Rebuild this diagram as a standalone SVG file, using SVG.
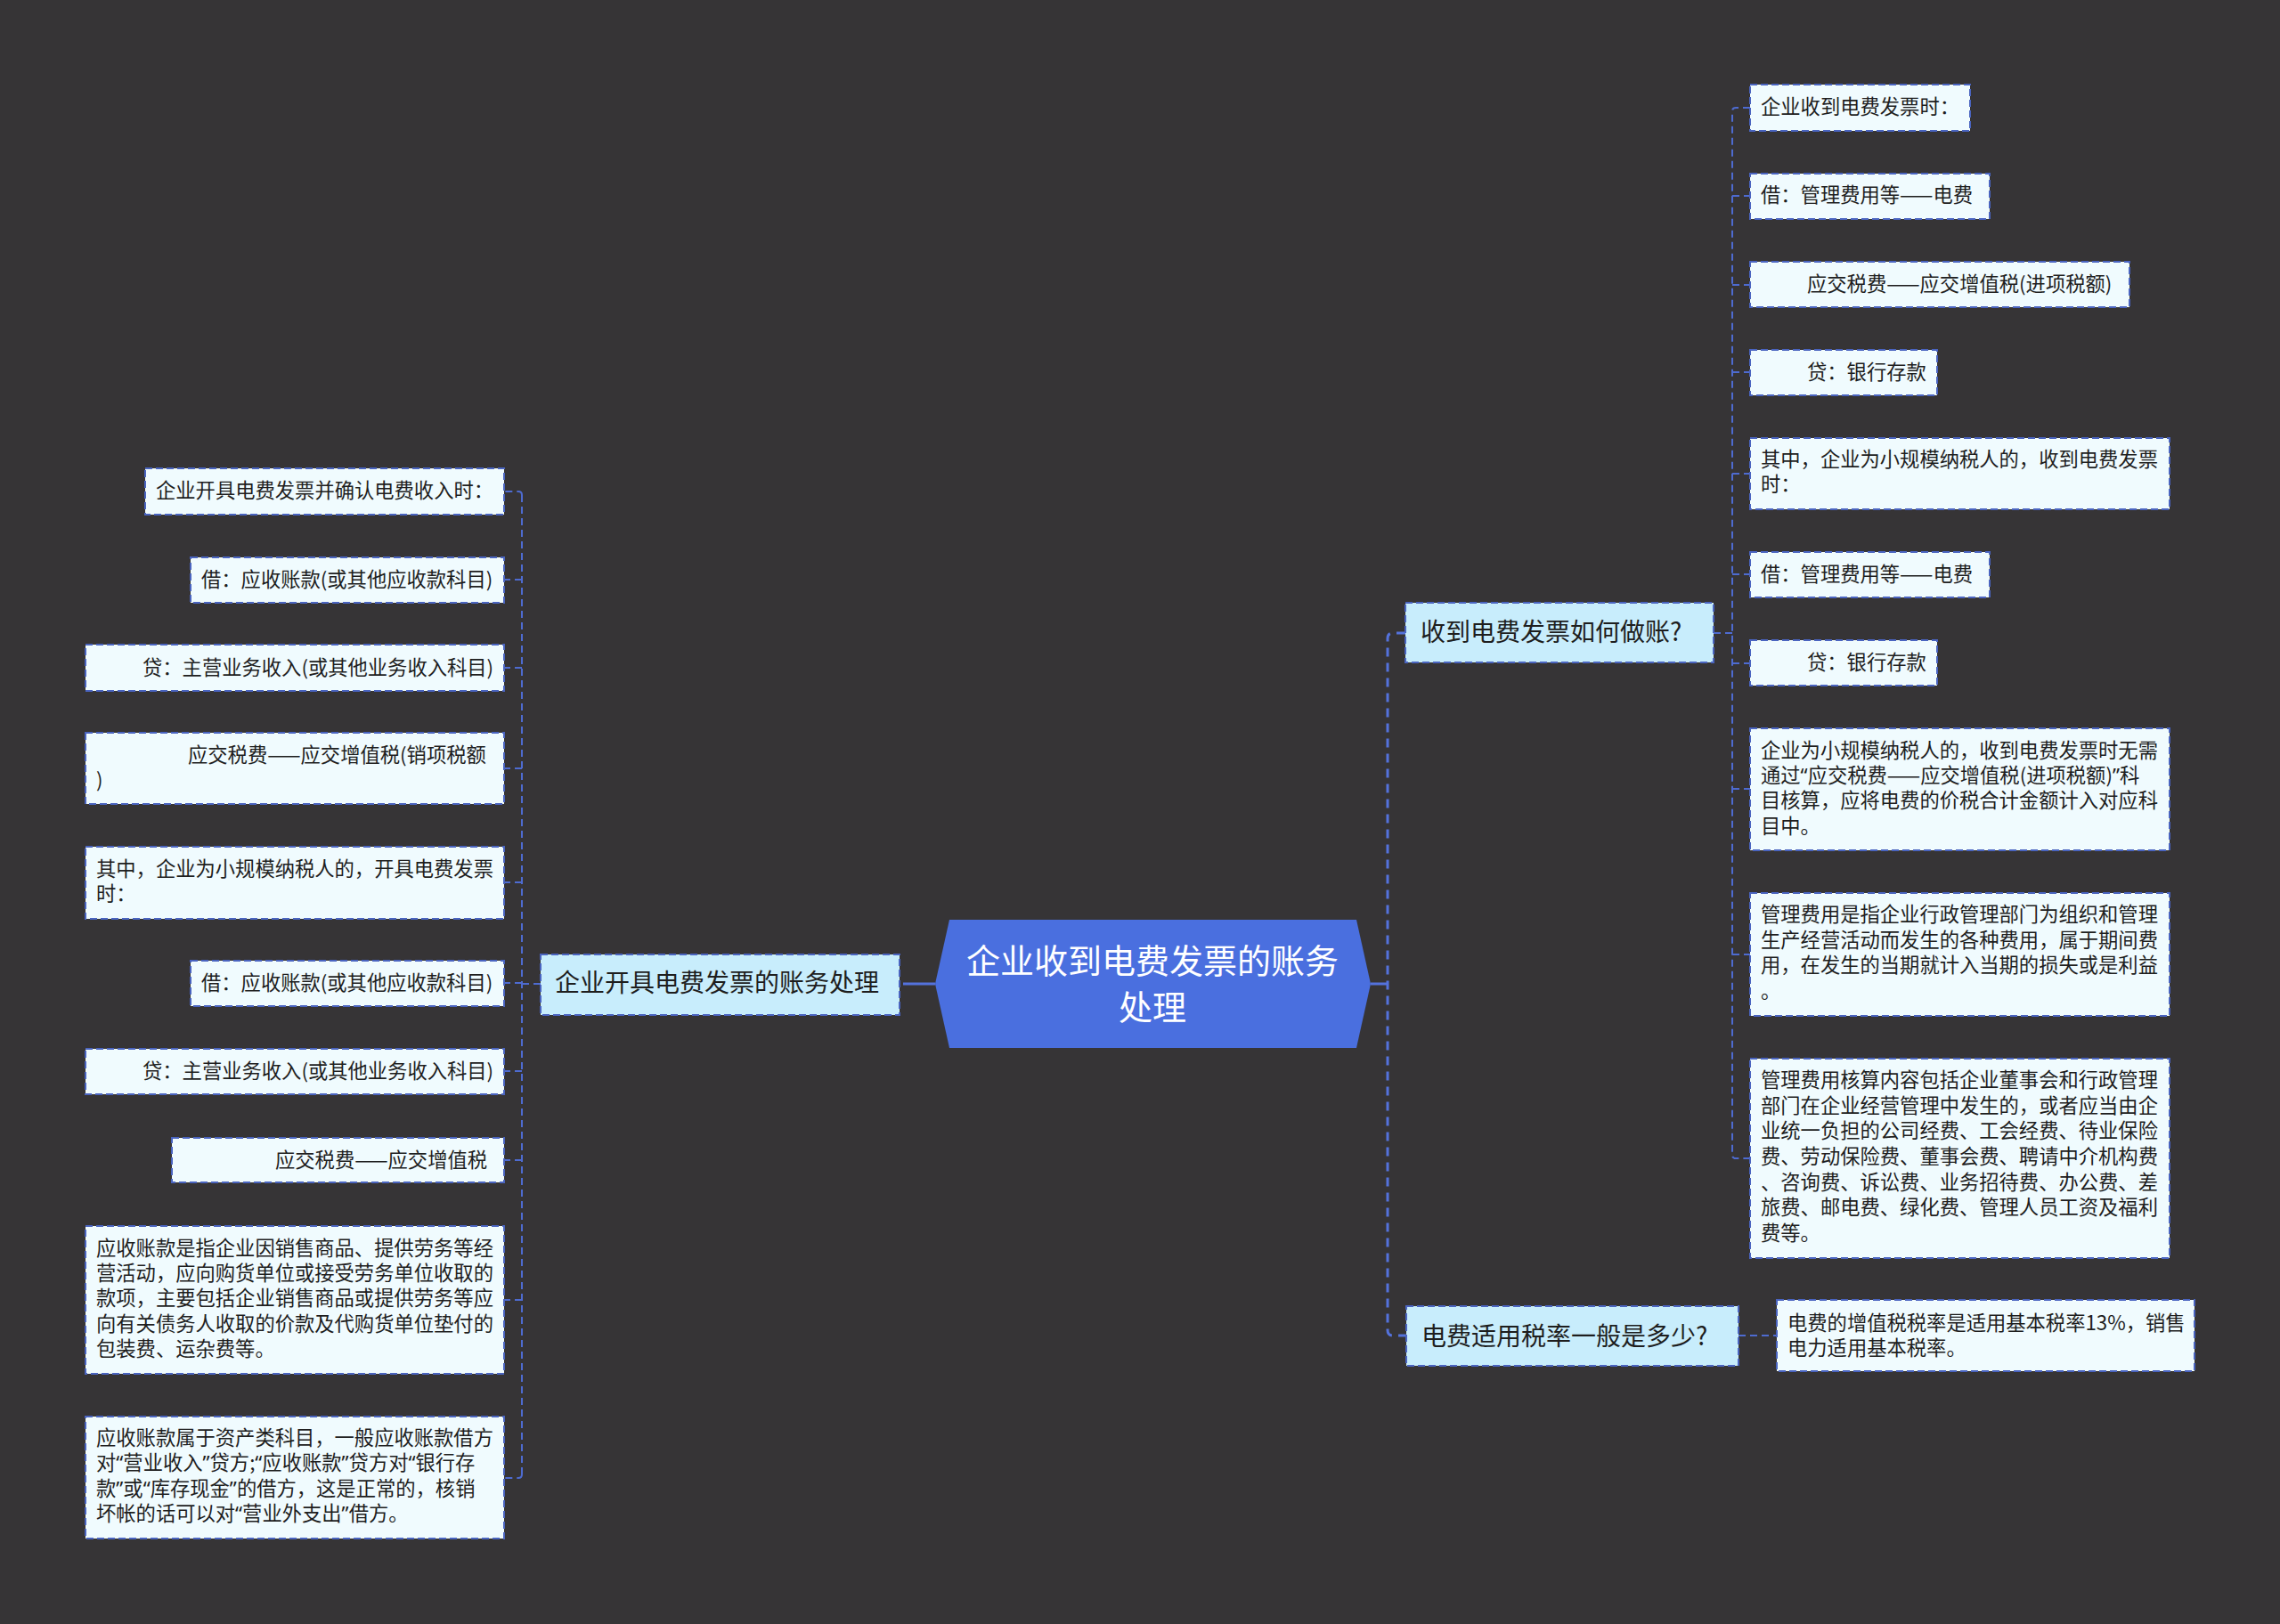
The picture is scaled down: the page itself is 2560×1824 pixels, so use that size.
<svg xmlns="http://www.w3.org/2000/svg" width="2560" height="1824" viewBox="0 0 2560 1824">
<style>
.bg{fill:#363436}
.leaf{fill:#f0fbfe;stroke:#4a64c0;stroke-width:2;stroke-dasharray:8 4}
.main{fill:#c8edfc;stroke:#4a64c0;stroke-width:2;stroke-dasharray:8 4}
.center{fill:#4a6fdf}
.t{font-family:"Noto Sans CJK SC","Noto Sans",sans-serif;fill:#1e1e1e}
.q{font-family:"Noto Sans","Liberation Sans",sans-serif}
.ts{font-size:22.3px}
.tm{font-size:28px}
.tc{font-size:38px;fill:#ffffff;text-anchor:middle}
.c{fill:none;stroke:#4e6bd0;stroke-width:2;stroke-dasharray:8 5}
.cs{fill:none;stroke:#5472dc;stroke-width:3;stroke-dasharray:10 7}
.solid{fill:none;stroke:#5472dc;stroke-width:3}
</style>
<rect class="bg" x="0" y="0" width="2560" height="1824"/>
<g id="connectors">
  <path class="solid" d="M1050 1105 H1024"/>
  <path class="cs" d="M1024 1105 H1010"/>
  <path class="c" d="M607 1105 H586"/>
  <path class="c" d="M586 556 Q586 552 582 552 H566"/>
  <path class="c" d="M586 556 V1656"/>
  <path class="c" d="M586 1656 Q586 1660 582 1660 H566"/>
  <path class="c" d="M586 651 H566"/>
  <path class="c" d="M586 750 H566"/>
  <path class="c" d="M586 863 H566"/>
  <path class="c" d="M586 991 H566"/>
  <path class="c" d="M586 1104 H566"/>
  <path class="c" d="M586 1203 H566"/>
  <path class="c" d="M586 1303 H566"/>
  <path class="c" d="M586 1460 H566"/>
  <path class="solid" d="M1539 1105 H1558"/>
  <path class="cs" d="M1578 711 H1564 Q1558 711 1558 717 V1494 Q1558 1500 1564 1500 H1579"/>
  <path class="c" d="M1924 711 H1945"/>
  <path class="c" d="M1965 121 H1949 Q1945 121 1945 125 V1297 Q1945 1301 1949 1301 H1965"/>
  <path class="c" d="M1945 220 H1965"/>
  <path class="c" d="M1945 320 H1965"/>
  <path class="c" d="M1945 418 H1965"/>
  <path class="c" d="M1945 532 H1965"/>
  <path class="c" d="M1945 645 H1965"/>
  <path class="c" d="M1945 745 H1965"/>
  <path class="c" d="M1945 886 H1965"/>
  <path class="c" d="M1945 1072 H1965"/>
  <path class="c" d="M1952 1500 H1995"/>
</g>
<g id="center">
  <polygon class="center" points="1066,1033 1523,1033 1539,1105 1523,1177 1066,1177 1050,1105"/>
  <text class="t tc" x="1294" y="1093">企业收到电费发票的账务</text>
  <text class="t tc" x="1294" y="1145">处理</text>
</g>
<g id="left-main">
  <rect class="main" x="607" y="1072" width="403" height="68"/>
  <text class="t tm" x="623" y="1114">企业开具电费发票的账务处理</text>
</g>
<g id="l1">
  <rect class="leaf" x="163" y="526" width="403" height="52"/>
  <text class="t ts" x="175" y="559">企业开具电费发票并确认电费收入时：</text>
</g>
<g id="l2">
  <rect class="leaf" x="214" y="626" width="352" height="51"/>
  <text class="t ts" x="226" y="659">借：应收账款(或其他应收款科目)</text>
</g>
<g id="l3">
  <rect class="leaf" x="96" y="724" width="470" height="52"/>
  <text class="t ts" x="160" y="758">贷：主营业务收入(或其他业务收入科目)</text>
</g>
<g id="l4">
  <rect class="leaf" x="96" y="823" width="470" height="80"/>
  <text class="t ts" x="211" y="856">应交税费——应交增值税(销项税额</text>
  <text class="t ts" x="108" y="884">)</text>
</g>
<g id="l5">
  <rect class="leaf" x="96" y="951" width="470" height="81"/>
  <text class="t ts" x="108" y="984">其中，企业为小规模纳税人的，开具电费发票</text>
  <text class="t ts" x="108" y="1012">时：</text>
</g>
<g id="l6">
  <rect class="leaf" x="214" y="1079" width="352" height="51"/>
  <text class="t ts" x="226" y="1112">借：应收账款(或其他应收款科目)</text>
</g>
<g id="l7">
  <rect class="leaf" x="96" y="1178" width="470" height="51"/>
  <text class="t ts" x="160" y="1211">贷：主营业务收入(或其他业务收入科目)</text>
</g>
<g id="l8">
  <rect class="leaf" x="193" y="1278" width="373" height="50"/>
  <text class="t ts" x="309" y="1311">应交税费——应交增值税</text>
</g>
<g id="l9">
  <rect class="leaf" x="96" y="1377" width="470" height="166"/>
  <text class="t ts" x="108" y="1410">应收账款是指企业因销售商品、提供劳务等经</text>
  <text class="t ts" x="108" y="1438">营活动，应向购货单位或接受劳务单位收取的</text>
  <text class="t ts" x="108" y="1466">款项，主要包括企业销售商品或提供劳务等应</text>
  <text class="t ts" x="108" y="1495">向有关债务人收取的价款及代购货单位垫付的</text>
  <text class="t ts" x="108" y="1523">包装费、运杂费等。</text>
</g>
<g id="l10">
  <rect class="leaf" x="96" y="1591" width="470" height="137"/>
  <text class="t ts" x="108" y="1623">应收账款属于资产类科目，一般应收账款借方</text>
  <text class="t ts" x="108" y="1651">对<tspan class="q">“</tspan>营业收入<tspan class="q">”</tspan>贷方;<tspan class="q">“</tspan>应收账款<tspan class="q">”</tspan>贷方对<tspan class="q">“</tspan>银行存</text>
  <text class="t ts" x="108" y="1680">款<tspan class="q">”</tspan>或<tspan class="q">“</tspan>库存现金<tspan class="q">”</tspan>的借方，这是正常的，核销</text>
  <text class="t ts" x="108" y="1708">坏帐的话可以对<tspan class="q">“</tspan>营业外支出<tspan class="q">”</tspan>借方。</text>
</g>
<g id="right-main-1">
  <rect class="main" x="1578" y="677" width="346" height="67"/>
  <text class="t tm" x="1595" y="720">收到电费发票如何做账?</text>
</g>
<g id="r1">
  <rect class="leaf" x="1965" y="95" width="247" height="52"/>
  <text class="t ts" x="1977" y="128">企业收到电费发票时：</text>
</g>
<g id="r2">
  <rect class="leaf" x="1965" y="195" width="269" height="51"/>
  <text class="t ts" x="1977" y="227">借：管理费用等——电费</text>
</g>
<g id="r3">
  <rect class="leaf" x="1965" y="294" width="426" height="51"/>
  <text class="t ts" x="2029" y="327">应交税费——应交增值税(进项税额)</text>
</g>
<g id="r4">
  <rect class="leaf" x="1965" y="393" width="210" height="51"/>
  <text class="t ts" x="2029" y="426">贷：银行存款</text>
</g>
<g id="r5">
  <rect class="leaf" x="1965" y="492" width="471" height="80"/>
  <text class="t ts" x="1977" y="524">其中，企业为小规模纳税人的，收到电费发票</text>
  <text class="t ts" x="1977" y="552">时：</text>
</g>
<g id="r6">
  <rect class="leaf" x="1965" y="620" width="269" height="51"/>
  <text class="t ts" x="1977" y="653">借：管理费用等——电费</text>
</g>
<g id="r7">
  <rect class="leaf" x="1965" y="719" width="210" height="51"/>
  <text class="t ts" x="2029" y="752">贷：银行存款</text>
</g>
<g id="r8">
  <rect class="leaf" x="1965" y="818" width="471" height="137"/>
  <text class="t ts" x="1977" y="851">企业为小规模纳税人的，收到电费发票时无需</text>
  <text class="t ts" x="1977" y="879">通过<tspan class="q">“</tspan>应交税费——应交增值税(进项税额)<tspan class="q">”</tspan>科</text>
  <text class="t ts" x="1977" y="907">目核算，应将电费的价税合计金额计入对应科</text>
  <text class="t ts" x="1977" y="936">目中。</text>
</g>
<g id="r9">
  <rect class="leaf" x="1965" y="1003" width="471" height="138"/>
  <text class="t ts" x="1977" y="1035">管理费用是指企业行政管理部门为组织和管理</text>
  <text class="t ts" x="1977" y="1064">生产经营活动而发生的各种费用，属于期间费</text>
  <text class="t ts" x="1977" y="1092">用，在发生的当期就计入当期的损失或是利益</text>
  <text class="t ts" x="1977" y="1121">。</text>
</g>
<g id="r10">
  <rect class="leaf" x="1965" y="1189" width="471" height="224"/>
  <text class="t ts" x="1977" y="1221">管理费用核算内容包括企业董事会和行政管理</text>
  <text class="t ts" x="1977" y="1250">部门在企业经营管理中发生的，或者应当由企</text>
  <text class="t ts" x="1977" y="1278">业统一负担的公司经费、工会经费、待业保险</text>
  <text class="t ts" x="1977" y="1307">费、劳动保险费、董事会费、聘请中介机构费</text>
  <text class="t ts" x="1977" y="1336">、咨询费、诉讼费、业务招待费、办公费、差</text>
  <text class="t ts" x="1977" y="1364">旅费、邮电费、绿化费、管理人员工资及福利</text>
  <text class="t ts" x="1977" y="1393">费等。</text>
</g>
<g id="right-main-2">
  <rect class="main" x="1579" y="1467" width="373" height="67"/>
  <text class="t tm" x="1596" y="1511">电费适用税率一般是多少?</text>
</g>
<g id="r11">
  <rect class="leaf" x="1995" y="1460" width="469" height="80"/>
  <text class="t ts" x="2007" y="1494">电费的增值税税率是适用基本税率13%，销售</text>
  <text class="t ts" x="2007" y="1522">电力适用基本税率。</text>
</g>
</svg>
